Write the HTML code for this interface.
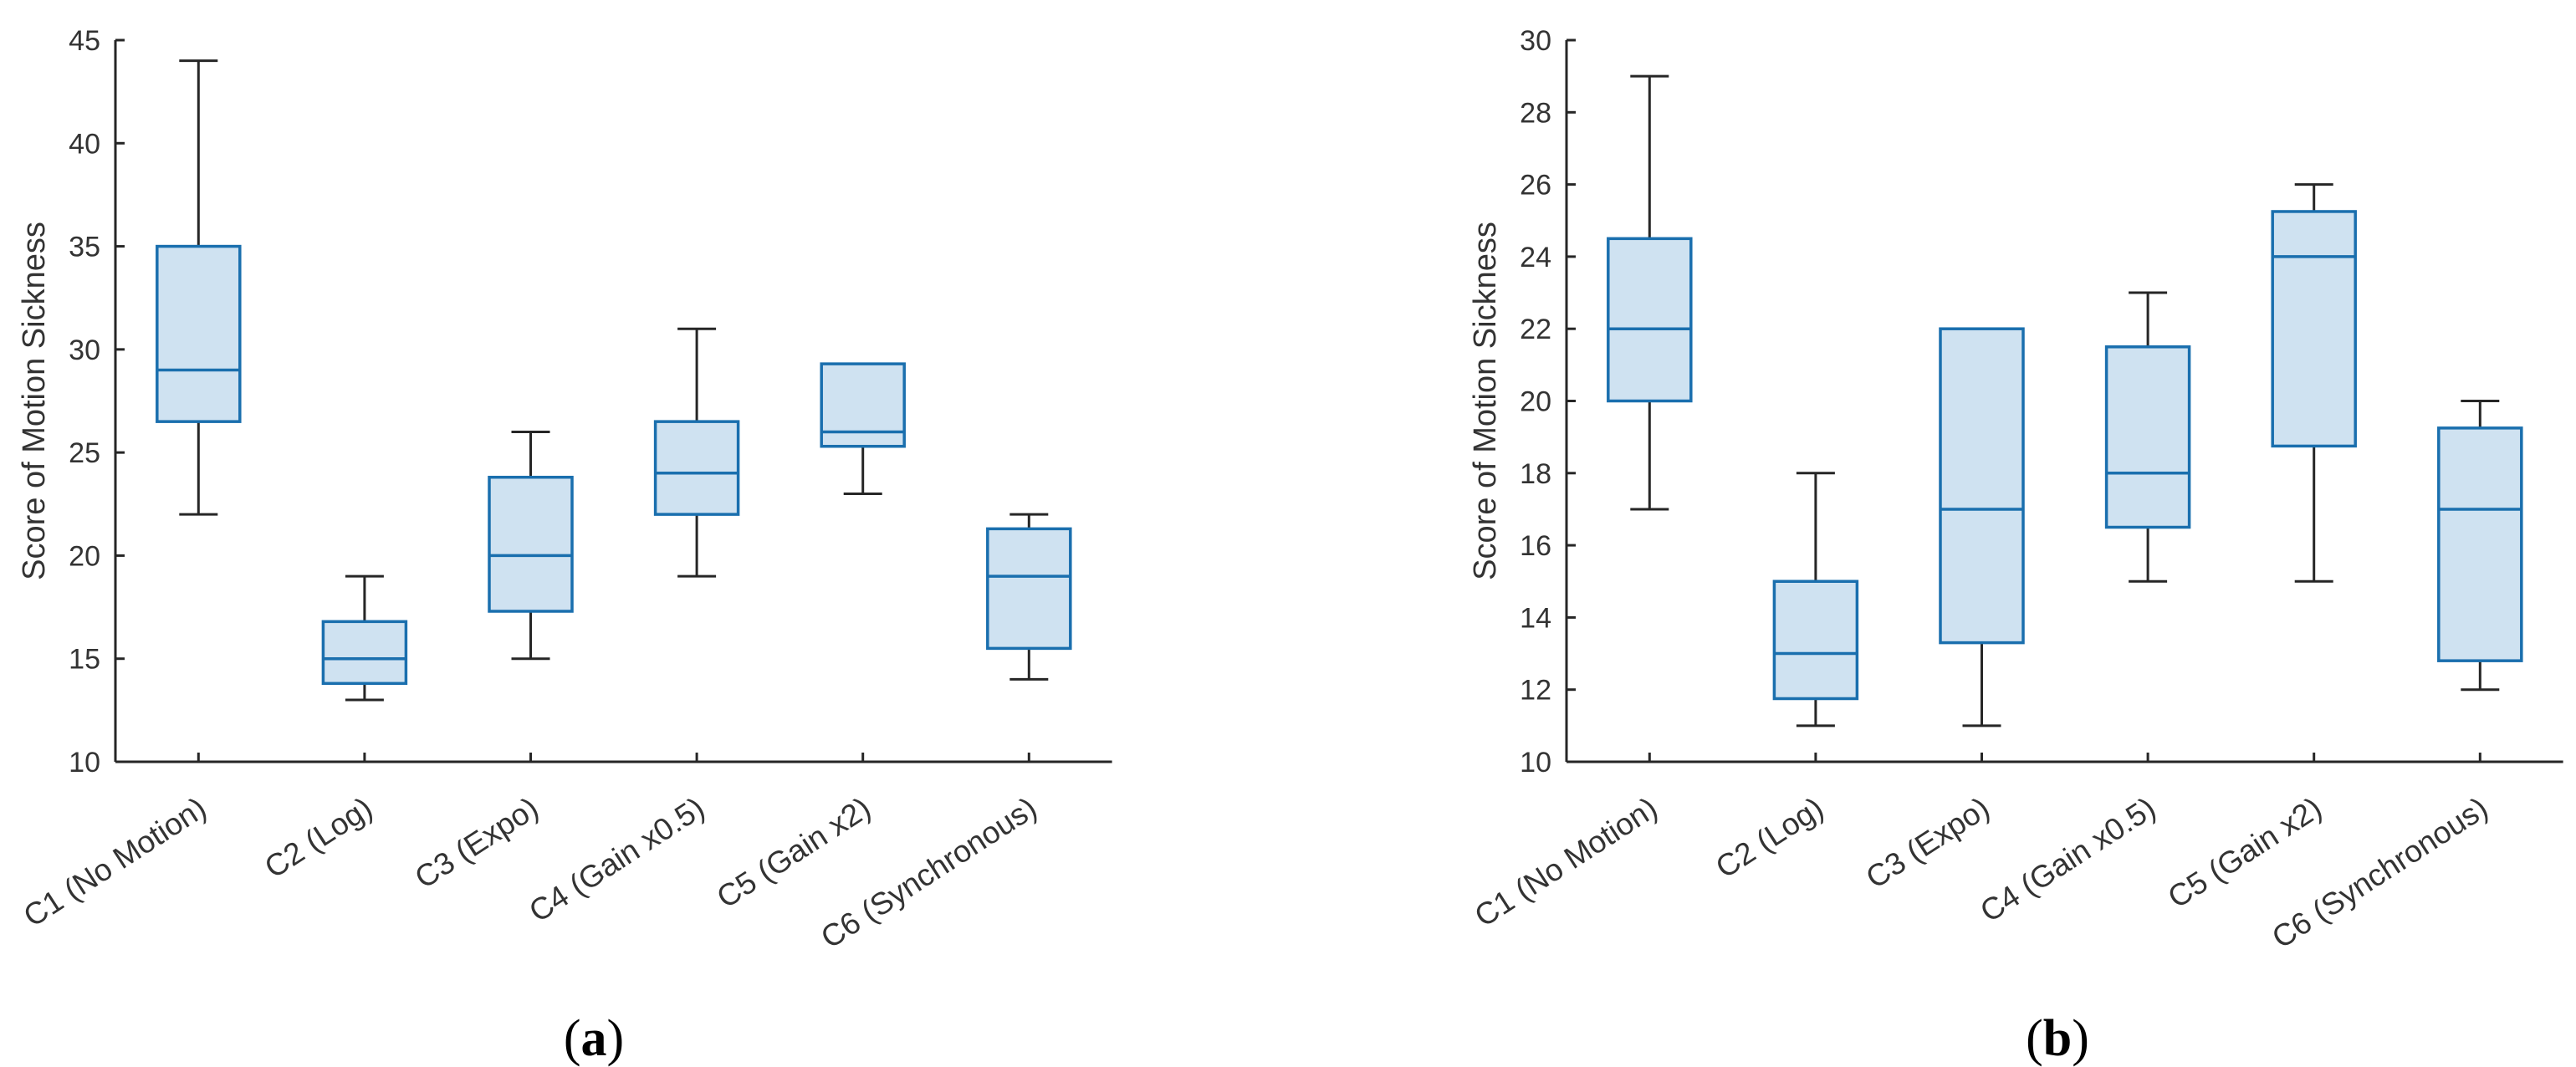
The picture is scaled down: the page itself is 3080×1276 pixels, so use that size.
<!DOCTYPE html>
<html><head><meta charset="utf-8"><style>
html,body{margin:0;padding:0;background:#fff;}
svg{display:block;font-family:"Liberation Sans",Arial,sans-serif;}
</style></head><body>
<svg id="fig" width="3080" height="1276" viewBox="0 0 3080 1276" xmlns="http://www.w3.org/2000/svg"></svg>
<script>
const categories = ["C1 (No Motion)","C2 (Log)","C3 (Expo)","C4 (Gain x0.5)","C5 (Gain x2)","C6 (Synchronous)"];
// panel (a)
const aWhiskerLow  = [22, 13, 15, 19, 23, 14];
const aQ1          = [26.5, 13.8, 17.3, 22, 25.3, 15.5];
const aMedian      = [29, 15, 20, 24, 26, 19];
const aQ3          = [35, 16.8, 23.8, 26.5, 29.3, 21.3];
const aWhiskerHigh = [44, 19, 26, 31, 29.3, 22];
const aTicks = [10,15,20,25,30,35,40,45];
// panel (b)
const bWhiskerLow  = [17, 11, 11, 15, 15, 12];
const bQ1          = [20, 11.75, 13.3, 16.5, 18.75, 12.8];
const bMedian      = [22, 13, 17, 18, 24, 17];
const bQ3          = [24.5, 15, 22, 21.5, 25.25, 19.25];
const bWhiskerHigh = [29, 18, 22, 23, 26, 20];
const bTicks = [10,12,14,16,18,20,22,24,26,28,30];

const NS = "http://www.w3.org/2000/svg";
const svg = document.getElementById('fig');
function mk(tag, attrs, parent){
  const e = document.createElementNS(NS, tag);
  for (const k in attrs) e.setAttribute(k, attrs[k]);
  (parent||svg).appendChild(e);
  return e;
}
const TOP = 48, BOT = 911, STEP = 198.6;
const BOX = '#1a6fae', FILL = '#cfe2f1', INK = '#262626';

function panel(name, x0, ymin, ymax, ticks, wl, q1, med, q3, wh, caption, capX){
  const g = mk('g', {});
  
  
  const y = v => BOT - (v - ymin) / (ymax - ymin) * (BOT - TOP);
  const x = i => x0 + (i + 0.5) * STEP;
  const xEnd = x0 + 6 * STEP;
  const ya = mk('line', {x1:x0, y1:TOP, x2:x0, y2:BOT, stroke:INK, 'stroke-width':3}, g);
  
  
  const xa = mk('line', {x1:x0, y1:BOT, x2:xEnd, y2:BOT, stroke:INK, 'stroke-width':3}, g);
  
  
  ticks.forEach(t => {
    mk('line', {x1:x0, y1:y(t), x2:x0+11, y2:y(t), stroke:INK, 'stroke-width':3}, g);
    const tl = mk('text', {x:x0-18, y:y(t)+12, 'text-anchor':'end', 'font-size':34, fill:'#333'}, g);
    tl.textContent = t;
    
    
  });
  const yl = mk('text', {x:0, y:0, 'text-anchor':'middle', 'font-size':38, fill:'#333',
    transform:`translate(${x0-85},${(TOP+BOT)/2}) rotate(-90)`}, g);
  yl.textContent = 'Score of Motion Sickness';
  
  
  categories.forEach((c, i) => {
    const cx = x(i);
    mk('line', {x1:cx, y1:BOT, x2:cx, y2:BOT-11, stroke:INK, 'stroke-width':3}, g);
    const xl = mk('text', {x:0, y:0, 'text-anchor':'end', 'font-size':37, fill:'#333',
      transform:`translate(${cx+12},${BOT+62}) rotate(-33)`}, g);
    xl.textContent = c;
    
    
    const bg = mk('g', {}, g);
    
    
    const hw = 49.5, cw = 23;
    mk('line', {x1:cx, y1:y(wh[i]), x2:cx, y2:y(q3[i]), stroke:INK, 'stroke-width':3}, bg);
    mk('line', {x1:cx, y1:y(wl[i]), x2:cx, y2:y(q1[i]), stroke:INK, 'stroke-width':3}, bg);
    mk('line', {x1:cx-cw, y1:y(wh[i]), x2:cx+cw, y2:y(wh[i]), stroke:INK, 'stroke-width':3}, bg);
    mk('line', {x1:cx-cw, y1:y(wl[i]), x2:cx+cw, y2:y(wl[i]), stroke:INK, 'stroke-width':3}, bg);
    mk('rect', {x:cx-hw, y:y(q3[i]), width:2*hw, height:y(q1[i])-y(q3[i]), fill:FILL, stroke:BOX, 'stroke-width':3.5}, bg);
    mk('line', {x1:cx-hw, y1:y(med[i]), x2:cx+hw, y2:y(med[i]), stroke:BOX, 'stroke-width':3.5}, bg);
  });
  const cap = mk('text', {x:capX, y:1262, 'text-anchor':'middle', 'font-size':62,
    'font-family':'"Liberation Serif", serif', fill:'#000'}, g);
  cap.innerHTML = '(<tspan font-weight="bold">' + caption + '</tspan>)';
  
  
}
panel('chart-a', 138, 10, 45, aTicks, aWhiskerLow, aQ1, aMedian, aQ3, aWhiskerHigh, 'a', 710);
panel('chart-b', 1873, 10, 30, bTicks, bWhiskerLow, bQ1, bMedian, bQ3, bWhiskerHigh, 'b', 2460);
</script>
</body></html>
